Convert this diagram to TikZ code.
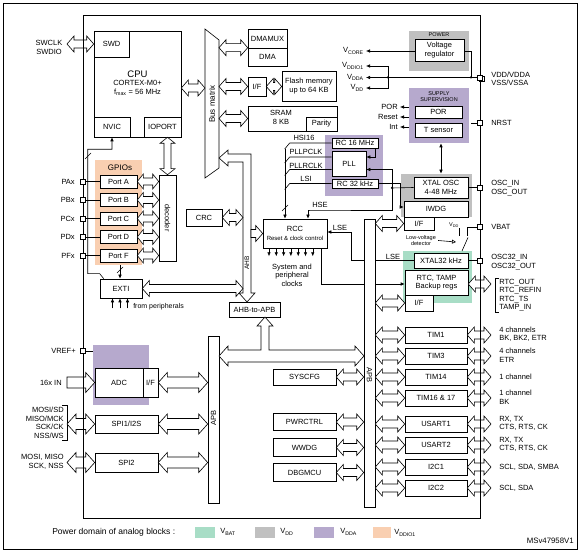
\documentclass[tikz,border=0pt]{standalone}
\usepackage{fontspec}
\setmainfont{Liberation Sans}
\usetikzlibrary{arrows.meta, calc, positioning}

\definecolor{vbat}{HTML}{A8DDC6}
\definecolor{vdd}{HTML}{C0C0C0}
\definecolor{vdda}{HTML}{B6A9CD}
\definecolor{vddio}{HTML}{F9CFB1}

% bus arrow size: shaft half width, head half width, head length
\newcommand\bsh{4pt}
\newcommand\bhh{8pt}
\newcommand\bhl{7pt}
% hollow bus, heads at both ends
\newcommand\hbus[2]{\draw[bus] let \p1=(#1), \p2=(#2) in
  (\x1,\y1) -- (\x1+\bhl,\y1+\bhh) -- (\x1+\bhl,\y1+\bsh) -- (\x2-\bhl,\y1+\bsh)
  -- (\x2-\bhl,\y1+\bhh) -- (\x2,\y1) -- (\x2-\bhl,\y1-\bhh) -- (\x2-\bhl,\y1-\bsh)
  -- (\x1+\bhl,\y1-\bsh) -- (\x1+\bhl,\y1-\bhh) -- cycle;}
% hollow bus, head at right end only
\newcommand\hbusr[2]{\draw[bus] let \p1=(#1), \p2=(#2) in
  (\x1,\y1+\bsh) -- (\x2-\bhl,\y1+\bsh) -- (\x2-\bhl,\y1+\bhh) -- (\x2,\y1)
  -- (\x2-\bhl,\y1-\bhh) -- (\x2-\bhl,\y1-\bsh) -- (\x1,\y1-\bsh) -- cycle;}
% vertical hollow bus, heads at both ends (top, bottom)
\newcommand\vbus[2]{\draw[bus] let \p1=(#1), \p2=(#2) in
  (\x1,\y1) -- (\x1+\bhh,\y1-\bhl) -- (\x1+\bsh,\y1-\bhl) -- (\x1+\bsh,\y2+\bhl)
  -- (\x1+\bhh,\y2+\bhl) -- (\x1,\y2) -- (\x1-\bhh,\y2+\bhl) -- (\x1-\bsh,\y2+\bhl)
  -- (\x1-\bsh,\y1-\bhl) -- (\x1-\bhh,\y1-\bhl) -- cycle;}

\tikzset{
  blk/.style={draw, fill=white, align=center},
  dom/.style={fill=#1, draw=none},
  iopin/.style={draw, fill=white, minimum size=5pt},
  bus/.style={draw, fill=white, line join=miter},
  sig/.style={-{Latex[length=4pt,width=3.5pt]}},
  jdot/.style={circle, fill, minimum size=2.5pt},
  small/.style={font=\fontsize{5.5}{6.5}\selectfont},
}

\begin{document}
\begin{tikzpicture}[x=1pt, y=-1pt, line width=0.6pt,
  font=\fontsize{7.5}{8.5}\selectfont, every node/.append style={inner sep=0pt}]
\useasboundingbox (0,0) rectangle (582,553);
\draw (3,3) rectangle (577,549);
\draw (83,15) rectangle (480,518);

% power domains
\node[dom=vdd, minimum width=60pt, minimum height=40pt] (pwrdom) at (439,51) {};
\node[small] (pwrlbl) at (439,35) {POWER};
\node[dom=vdda, minimum width=60pt, minimum height=55pt] (supdom) at (439,115.5) {};
\node[small, align=center] (suplbl) at (439,96.5) {SUPPLY\\SUPERVISION};
\node[dom=vdda, minimum width=58pt, minimum height=61pt] (clkdom) at (354,165.5) {};
\node[dom=vdd, minimum width=71pt, minimum height=43pt] (xtaldom) at (436.5,195.5) {};
\node[dom=vbat, minimum width=69pt, minimum height=52pt] (vbatdom) at (437.5,277) {};
\node[dom=vddio, minimum width=47pt, minimum height=105pt] (gpiodom) at (118.5,212.5) {};
\node[dom=vdda, minimum width=56pt, minimum height=60pt] (adcdom) at (121,375) {};

% CPU
\node[blk, minimum width=87pt, minimum height=106pt] (cpu) at (137.5,84) {};
\node[blk, minimum width=35pt, minimum height=26pt] (swd) at (111.5,44) {SWD};
\node[blk, minimum width=36pt, minimum height=20pt] (nvic) at (112,127) {NVIC};
\node[blk, minimum width=37pt, minimum height=20pt] (ioport) at (162.5,127) {IOPORT};
\node[align=center] (cputxt) at (137.5,83) {{\fontsize{9.5}{10}\selectfont CPU}\\CORTEX-M0+\\f\textsubscript{max} = 56 MHz};
\node[align=center] (lswd) at (49,47.5) {SWCLK\\SWDIO};

% bus matrix
\draw[fill=white] (205,29) -- (219,40) -- (219,168) -- (205,178) -- cycle;
\node[rotate=90, font=\fontsize{8}{9}\selectfont] (bmlbl) at (212,104) {Bus matrix};
\coordinate (bml) at (205,0);
\coordinate (bmr) at (219,0);

% memories
\node[blk, minimum width=39pt, minimum height=19pt] (dmamux) at (267.5,38.5) {DMAMUX};
\node[blk, minimum width=39pt, minimum height=18pt] (dma) at (267.5,57) {DMA};
\node[blk, minimum width=18pt, minimum height=19pt] (flif) at (257,86.5) {I/F};
\node[blk, minimum width=54pt, minimum height=30pt] (flash) at (309,86) {Flash memory\\up to 64 KB};
\node[blk, minimum width=89pt, minimum height=25pt] (sram) at (292.5,118.5) {};
\node[align=center] (sramtxt) at (281,117.5) {SRAM\\8 KB};
\node[blk, minimum width=31pt, minimum height=14pt] (parity) at (321.5,124) {Parity};

% supply
\node[blk, minimum width=49pt, minimum height=22pt] (vreg) at (439.5,50) {Voltage\\regulator};
\node[anchor=east] (vcore) at (364,51) {V\textsubscript{CORE}};
\node[anchor=east] (vddio) at (364,66) {V\textsubscript{DDIO1}};
\node[anchor=east] (vdda) at (364,77.5) {V\textsubscript{DDA}};
\node[anchor=east] (vddl) at (364,88) {V\textsubscript{DD}};
\node[iopin] (pvdd2) at (481.5,79) {};
\node[iopin] (pvdd) at (480,77.5) {};
\node[anchor=west, align=left] (lvdd) at (491,79) {VDD/VDDA\\VSS/VSSA};
\coordinate (vsplit) at (388,77.5);
\coordinate (vrail) at (471,77.5);
\draw[sig] (vreg.west |- vcore) -- ([xshift=2pt]vcore.east);
\draw (vreg.east |- vcore) -| (vrail);
\draw[sig] (pvdd.west) -- ([xshift=2pt]vdda.east);
\draw[sig] (vsplit) |- ([xshift=2pt]vddio.east);
\draw[sig] (vsplit) |- ([xshift=2pt]vddl.east);
\node[jdot] (d1) at (vsplit) {};
\node[jdot] (d2) at (vrail) {};

\node[blk, minimum width=47pt, minimum height=12pt] (por) at (438.5,112) {POR};
\node[blk, minimum width=47pt, minimum height=14pt] (tsens) at (438.5,130) {T sensor};
\node[anchor=east] (porout) at (398,107) {POR};
\node[anchor=east] (rstout) at (398,117) {Reset};
\node[anchor=east] (intout) at (398,127) {Int};
\foreach \o in {porout,rstout,intout}
  \draw[sig] (supdom.west |- \o) -- ([xshift=2pt]\o.east);
\node[iopin] (pnrst) at (480,123) {};
\node[anchor=west] (lnrst) at (491,123) {NRST};
\draw (pnrst.west) -- ++(-6,0);

% clocks
\node[blk, minimum width=46pt, minimum height=10pt] (rc16) at (355,143) {RC 16 MHz};
\node[blk, minimum width=34pt, minimum height=25pt] (pll) at (349,163.5) {PLL};
\node[blk, minimum width=46pt, minimum height=9pt] (rc32) at (355,183.5) {RC 32 kHz};
\node (lhsi) at (304,138) {HSI16};
\node (lpllp) at (306,152) {PLLPCLK};
\node (lpllr) at (306,165.5) {PLLRCLK};
\node (llsi) at (306,178.5) {LSI};
\draw[sig] ([xshift=20pt]rc16.south) |- ([yshift=6.5pt]pll.east);

\node[blk, minimum width=54pt, minimum height=21pt] (xtal) at (441,187.5) {XTAL OSC\\4-48 MHz};
\node[blk, minimum width=64pt, minimum height=16pt] (iwdg) at (436,209) {IWDG};
\node[blk, minimum width=30pt, minimum height=13pt] (iwdgif) at (419,223.5) {I/F};
\node[iopin] (posc) at (480,187.5) {};
\node[anchor=west, align=left] (losc) at (491,188) {OSC\_IN\\OSC\_OUT};
\draw (xtal.east) -- (posc.west);
\draw[{Latex[length=4pt,width=3.5pt]}-{Latex[length=4pt,width=3.5pt]}]
  ([xshift=2pt]supdom.south) -- ([xshift=2pt]supdom.south |- xtaldom.north);

\node[blk, minimum width=36pt, minimum height=17pt] (crc) at (204,217.5) {CRC};
\node[blk, minimum width=64pt, minimum height=29pt] (rcc) at (295,233.5) {};
\node (rcctxt) at (295,229) {RCC};
\node[font=\fontsize{6}{7}\selectfont] (rccsub) at (295,238.5) {Reset \& clock control};
\node[align=center] (clks) at (292,275) {System and\\peripheral\\clocks};
\foreach \i in {0,...,6}
  \draw[sig] ([xshift=\i*7.3pt-26pt]rcc.south) -- ++(0,8);

\coordinate (ckbus) at (285,149);
\draw (rc16.west) -- ++(-42,0) -- ++(-5,6);
\draw ([yshift=6.5pt]pll.west) -- ++(-42,0) -- ++(-5,6);
\draw ([yshift=-6pt]pll.west) -- ++(-42,0) -- ++(-5,6);
\draw (rc32.west) -- ++(-42,0) -- ++(-5,6);
\draw[sig] (ckbus) -- (ckbus |- rcc.north);
\draw (282,211) -- (288,205);

\coordinate (hsej) at (392,188);
\draw (xtal.west) -- (hsej);
\draw[sig] (hsej) |- ([yshift=-6pt]pll.east);
\draw[sig] (hsej) |- (310,210) -| ([xshift=13pt]rcc.north);
\node[jdot] (d3) at (hsej) {};
\node (lhse) at (320,205) {HSE};
\draw[sig] (rc32.east) -- ++(22,0) |- ([yshift=2pt]iwdg.west);

% VBAT domain
\node[iopin] (pvbat) at (480,227) {};
\node[anchor=west] (lvbat) at (491,227) {VBAT};
\node[blk, minimum width=54pt, minimum height=15pt] (xtal32) at (441,260.5) {XTAL32 kHz};
\node[blk, minimum width=63pt, minimum height=25pt] (rtc) at (436.5,282.5) {RTC, TAMP\\Backup regs};
\node[blk, minimum width=28pt, minimum height=16pt] (rtcif) at (419,303) {I/F};
\node[iopin] (posc32) at (480,260.5) {};
\node[anchor=west, align=left] (losc32) at (491,262) {OSC32\_IN\\OSC32\_OUT};
\draw (xtal32.east) -- (posc32.west);
\coordinate (swa) at (467,236);
\coordinate (swb) at (459,236);
\coordinate (swp) at (462,251);
\draw (pvbat.west) -| (swa);
\draw (swb) -- ++(0,-8);
\draw (swp) -- (468,237.5);
\node[small, anchor=south] (lvddsw) at (454,228) {V\textsubscript{DD}};
\node[small, align=center] (lvd) at (421,240.5) {Low-voltage\\detector};
\coordinate (lvdtip) at (456,242);
\draw[-{Triangle[open,length=4pt,width=4pt]}] ([xshift=2pt]lvd.east) -- (lvdtip);
\node (llse) at (393,256.5) {LSE};
\node (lrcclse) at (340,228) {LSE};
\draw[sig] (xtal32.west) -- ++(-62,0) |- ([yshift=1.5pt]rcc.east);
\draw[sig] ([xshift=26pt]rcc.south) |- ([yshift=-1.5pt]rtc.west);

% APB buses
\node[blk, minimum width=11pt, minimum height=288pt] (apbr) at (369.5,363) {};
\node[rotate=-90] (lapbr) at (369.5,375) {APB};
\node[blk, minimum width=11pt, minimum height=167pt] (apbl) at (213.5,419.5) {};
\node[rotate=90] (lapbl) at (213.5,418) {APB};
\node[blk, minimum width=51pt, minimum height=15pt] (ahbapb) at (254.5,309.5) {AHB-to-APB};

% AHB bus
\draw[bus] (219,158) -- (228,150) -- (228,154) -- (251,154) -- (251,293) -- (255,293)
  -- (247,302) -- (239,293) -- (243,293) -- (243,162) -- (228,162) -- (228,166) -- cycle;
\node[rotate=90, font=\fontsize{6.5}{7}\selectfont] (lahb) at (247,263) {AHB};
\coordinate (ahbl) at (243,0);
\coordinate (ahbr) at (251,0);
% APB bridge bus
\draw[bus] (219,356) -- (228,346) -- (228,350) -- (261,350) -- (261,326) -- (257,326)
  -- (265,317) -- (273,326) -- (269,326) -- (269,350) -- (355,350) -- (355,346)
  -- (364,356) -- (355,366) -- (355,362) -- (228,362) -- (228,366) -- cycle;

% peripherals on APB
\foreach \nm/\t/\py in {tim1/TIM1/335, tim3/TIM3/356, tim14/TIM14/377, tim16/TIM16 \& 17/398,
  usart1/USART1/424, usart2/USART2/445, i2c1/I2C1/467, i2c2/I2C2/488}
  \node[blk, minimum width=62pt, minimum height=16pt] (\nm) at (436,\py) {\t};
\coordinate (pout) at (491,0);
\foreach \nm in {tim1,tim3,tim14,tim16,usart1,usart2,i2c1,i2c2} {
  \hbus{apbr.east |- \nm.west}{\nm.west}
  \hbus{\nm.east}{pout}
}
\hbus{apbr.east |- iwdgif.west}{iwdgif.west}
\hbus{apbr.east |- rtcif.west}{rtcif.west}
\hbus{[yshift=-1.5pt]rtc.east}{pout}
\draw (499,278) -- (495,278) -- (495,312) -- (499,312);
\node[anchor=west, align=left] (lrtc) at (499,295) {RTC\_OUT\\RTC\_REFIN\\RTC\_TS\\TAMP\_IN};
\node[anchor=west, align=left] (ltim1) at (499,334.5) {4 channels\\BK, BK2, ETR};
\node[anchor=west, align=left] (ltim3) at (499,355.5) {4 channels\\ETR};
\node[anchor=west, align=left] (ltim14) at (499,377) {1 channel};
\node[anchor=west, align=left] (ltim16) at (499,397.5) {1 channel\\BK};
\node[anchor=west, align=left] (lus1) at (499,423.5) {RX, TX\\CTS, RTS, CK};
\node[anchor=west, align=left] (lus2) at (499,444.5) {RX, TX\\CTS, RTS, CK};
\node[anchor=west, align=left] (li2c1) at (499,467) {SCL, SDA, SMBA};
\node[anchor=west, align=left] (li2c2) at (499,488) {SCL, SDA};

\node[blk, minimum width=63pt, minimum height=16pt] (syscfg) at (304.5,377) {SYSCFG};
\node[blk, minimum width=63pt, minimum height=17pt] (pwrctrl) at (304.5,422) {PWRCTRL};
\node[blk, minimum width=63pt, minimum height=18pt] (wwdg) at (304.5,447.5) {WWDG};
\node[blk, minimum width=63pt, minimum height=18pt] (dbgmcu) at (304.5,472.5) {DBGMCU};
\foreach \nm in {syscfg,pwrctrl,wwdg,dbgmcu} {
  \hbus{\nm.east}{apbr.west}
}

% AHB side
\hbus{crc.east}{ahbl}
\hbusr{ahbr |- rcc.west}{rcc.west}
\hbus{[yshift=-4pt]cpu.east}{bml}
\hbus{swd.west -| 67,0}{swd.west}
\hbus{bmr |- dma.north west}{dma.north west}
\hbus{bmr |- flif.west}{flif.west}
\hbus{flif.east}{flash.west}
\hbus{bmr |- sram.west}{sram.west}

% GPIOs
\node[font=\fontsize{8}{9}\selectfont] (lgpio) at (120,168) {GPIOs};
\node[blk, minimum width=17pt, minimum height=86pt] (decoder) at (167.5,218) {};
\node[rotate=-90] (ldec) at (167.5,218) {decoder};
\begin{scope}
\renewcommand\bsh{3.5pt}\renewcommand\bhh{7.5pt}\renewcommand\bhl{6pt}
\foreach \nm/\ltr/\py in {porta/A/181.5, portb/B/200, portc/C/218.5, portd/D/237, portf/F/255.5} {
  \node[blk, minimum width=37pt, minimum height=13pt] (\nm) at (118.5,\py) {Port \ltr};
  \node[iopin] (p\nm) at (83,\py) {};
  \node[anchor=east] (l\nm) at (75,\py) {P\ltr x};
  \draw (p\nm.east) -- (\nm.west);
  \hbus{\nm.east}{decoder.west}
}
\vbus{decoder.north |- ioport.south}{decoder.north}
\end{scope}

\node[blk, minimum width=42pt, minimum height=19pt] (exti) at (121,288.5) {EXTI};
\draw[sig] ([xshift=1.5pt]gpiodom.south) -- ([xshift=1.5pt]gpiodom.south |- exti.north);
\draw (117,273) -- (123,267);
\foreach \dx in {-8.5pt,-1pt,6.5pt}
  \draw[sig] ([xshift=\dx,yshift=-10pt]exti.south) -- ([xshift=\dx]exti.south);
\node[anchor=west, font=\fontsize{7}{8}\selectfont] (lfrom) at (133,307) {from peripherals};
\draw[sig] ([xshift=4pt]exti.north west) -- ++(-4,-5) -- ++(-12,0)
  |- ([yshift=-12pt]nvic.south) -- (nvic.south);
\draw (85,159) -- (91,153);
\hbus{exti.east}{ahbl}

% analog and SPI
\node[iopin] (pvref) at (83,351) {};
\node[anchor=east] (lvref) at (76,351) {VREF+};
\draw (pvref.east) -- (adcdom.west |- pvref);
\node[blk, minimum width=48pt, minimum height=29pt] (adc) at (119,382.5) {ADC};
\node[blk, minimum width=15pt, minimum height=29pt] (adcif) at (150.5,382.5) {I/F};
\node[anchor=east] (l16x) at (62,383) {16x IN};
\node[blk, minimum width=63pt, minimum height=18pt] (spi1) at (126.5,424) {SPI1/I2S};
\node[blk, minimum width=63pt, minimum height=19pt] (spi2) at (126.5,462.5) {SPI2};
\node[anchor=east, align=right] (lspi1) at (64,423) {MOSI/SD\\MISO/MCK\\SCK/CK\\NSS/WS};
\node[anchor=east, align=right] (lspi2) at (64,462) {MOSI, MISO\\SCK, NSS};
\draw (62,405) -- (67,405) -- (67,440) -- (62,440);
\coordinate (pinl) at (67,0);
\begin{scope}
\renewcommand\bsh{5.5pt}\renewcommand\bhh{10pt}\renewcommand\bhl{9pt}
\hbusr{pinl |- adc.west}{adc.west}
\hbus{adcif.east}{apbl.west}
\hbus{pinl |- spi1.west}{spi1.west}
\hbus{pinl |- spi2.west}{spi2.west}
\hbus{spi1.east}{apbl.west}
\hbus{spi2.east}{apbl.west}
\end{scope}

% chip edge shows through the pin buses
\draw (480,270) -- (480,505);
\draw (83,30) -- (83,60);
\draw (83,370) -- (83,480);

% legend
\node[anchor=west, font=\fontsize{8.5}{9.5}\selectfont] (legtxt) at (52,532) {Power domain of analog blocks :};
\node[dom=vbat, minimum width=20pt, minimum height=11pt] (legbat) at (205,532.5) {};
\node[anchor=west] (llegbat) at (220,532) {V\textsubscript{BAT}};
\node[dom=vdd, minimum width=20pt, minimum height=11pt] (legdd) at (265,532.5) {};
\node[anchor=west] (llegdd) at (280,532) {V\textsubscript{DD}};
\node[dom=vdda, minimum width=20pt, minimum height=11pt] (legdda) at (324,532.5) {};
\node[anchor=west] (llegdda) at (340,532) {V\textsubscript{DDA}};
\node[dom=vddio, minimum width=18pt, minimum height=11pt] (legio) at (382,533) {};
\node[anchor=west] (llegio) at (394,533) {V\textsubscript{DDIO1}};
\node[anchor=east, font=\fontsize{7.8}{9}\selectfont] (msv) at (574,541) {MSv47958V1};
\end{tikzpicture}
\end{document}
